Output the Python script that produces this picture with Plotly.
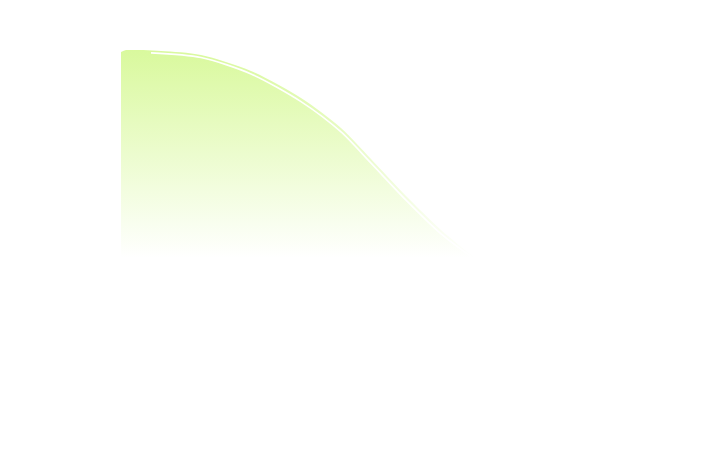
import plotly.graph_objects as go

# Outer (filled) series
x_fill = [0, 1, 8, 16, 26, 36, 44, 50, 57, 64, 70.4, 71.2]
y_fill = [99.0, 100, 99.5, 97.6, 89.9, 76.9, 62.5, 47.6, 29.8, 13.5, 1.0, 0]

# Inner (white line) series
x_line = [6, 16, 26, 36, 44, 50, 57, 64, 70.4]
y_line = [98.6, 96.4, 88.5, 75.2, 60.6, 45.6, 27.8, 11.6, 0.0]

fig = go.Figure()
fig.add_trace(go.Scatter(
    x=x_fill, y=y_fill, mode="lines",
    line=dict(width=0, shape="spline", smoothing=0.8),
    fill="tozeroy",
    fillgradient=dict(
        type="vertical",
        start=0, stop=100,
        colorscale=[[0, "rgba(217,249,157,0.0)"], [1, "rgba(217,249,157,1)"]],
    ),
    hoverinfo="skip", showlegend=False,
))
fig.add_trace(go.Scatter(
    x=x_line, y=y_line, mode="lines",
    line=dict(width=1.6, color="white", shape="spline", smoothing=0.8),
    hoverinfo="skip", showlegend=False,
))
fig.update_layout(
    width=701, height=456,
    margin=dict(l=113, r=88, t=42, b=206),
    paper_bgcolor="white", plot_bgcolor="white",
    xaxis=dict(range=[0, 100], visible=False, fixedrange=True),
    yaxis=dict(range=[0, 100], visible=False, fixedrange=True),
    showlegend=False,
)
fig.write_html("out.html")
